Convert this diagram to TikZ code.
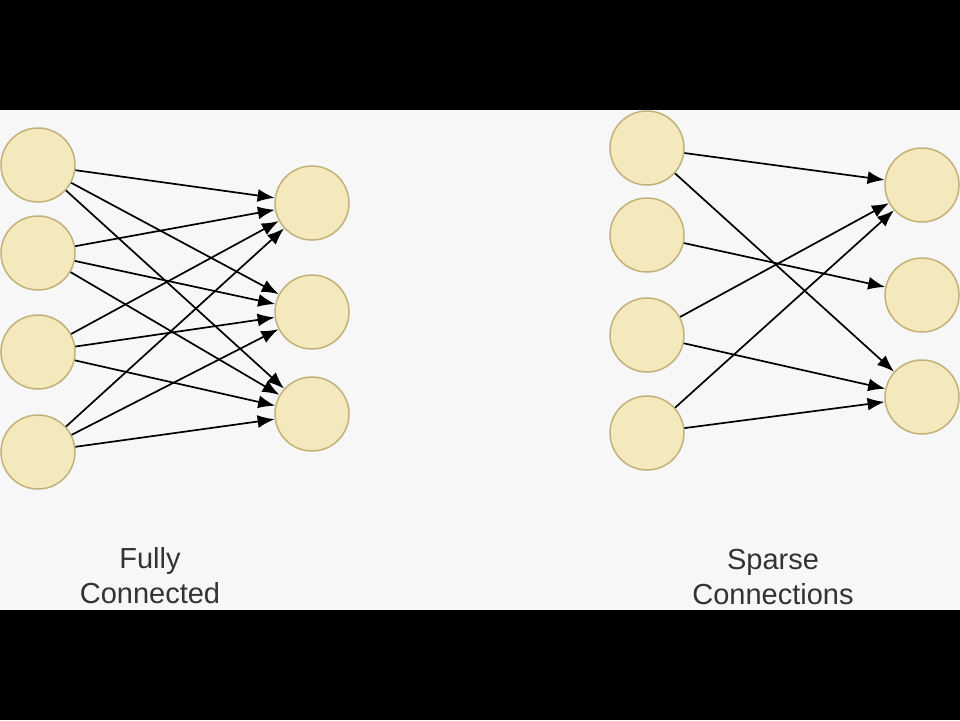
\documentclass[tikz,border=0pt]{standalone}
\usepackage{fontspec}
\setmainfont{Liberation Sans}
\usetikzlibrary{arrows.meta}
\definecolor{cellfill}{HTML}{F4E9BC}
\definecolor{celldraw}{HTML}{C2B27A}
\definecolor{pagebg}{HTML}{F7F7F7}
\definecolor{captext}{HTML}{333333}

\begin{document}
\begin{tikzpicture}[x=1pt,y=-1pt,
  unit/.style={circle,draw=celldraw,fill=cellfill,line width=1.5pt,minimum size=74pt,inner sep=0pt},
  link/.style={line width=1.7pt,-{Latex[length=17pt,width=13pt]}},
  caption/.style={align=center,text=captext,font=\fontsize{29}{35}\selectfont}]
  %%%%%%%%%%%%%%%%Background%%%%%%%%%%%%%%
  \fill[black] (0,0) rectangle (960,720);
  \fill[pagebg] (0,110) rectangle (960,610);
  \useasboundingbox (0,0) rectangle (960,720);

  %%%%%%%%%%%%%%%%Fully connected%%%%%%%%%%%%%%
  \node[unit] (fin1) at (38,165) {};
  \node[unit] (fin2) at (38,253) {};
  \node[unit] (fin3) at (38,352) {};
  \node[unit] (fin4) at (38,452) {};
  \node[unit] (fout1) at (312,203) {};
  \node[unit] (fout2) at (312,312) {};
  \node[unit] (fout3) at (312,414) {};

  \foreach \i in {1,...,4}
    \foreach \j in {1,2,3}
      \draw[link] (fin\i) -- (fout\j);

  \node[caption] (full label) at (150,576) {Fully\\Connected};

  %%%%%%%%%%%%%%%%Sparse connections%%%%%%%%%%%%%%
  \node[unit] (sin1) at (647,148) {};
  \node[unit] (sin2) at (647,235) {};
  \node[unit] (sin3) at (647,335) {};
  \node[unit] (sin4) at (647,433) {};
  \node[unit] (sout1) at (922,185) {};
  \node[unit] (sout2) at (922,295) {};
  \node[unit] (sout3) at (922,397) {};

  \draw[link] (sin1) -- (sout1);
  \draw[link] (sin1) -- (sout3);
  \draw[link] (sin2) -- (sout2);
  \draw[link] (sin3) -- (sout1);
  \draw[link] (sin3) -- (sout3);
  \draw[link] (sin4) -- (sout1);
  \draw[link] (sin4) -- (sout3);

  \node[caption] (sparse label) at (773,577) {Sparse\\Connections};

\end{tikzpicture}
\end{document}
